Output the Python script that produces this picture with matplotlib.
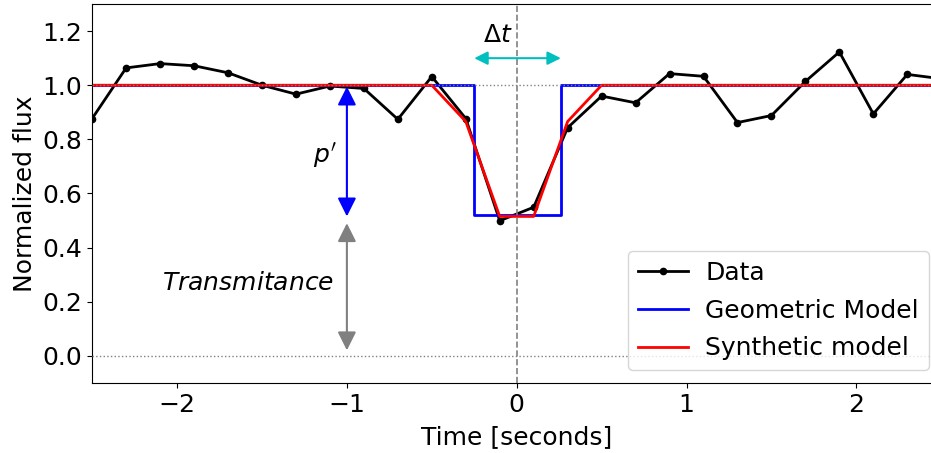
import matplotlib.pyplot as plt

# observed light curve, 0.2 s sampling
times = [-2.5, -2.3, -2.1, -1.9, -1.7, -1.5, -1.3, -1.1, -0.9, -0.7, -0.5,
         -0.3, -0.1, 0.1, 0.3, 0.5, 0.7, 0.9, 1.1, 1.3, 1.5, 1.7, 1.9, 2.1,
         2.3, 2.5]
flux = [0.877, 1.064, 1.080, 1.072, 1.046, 1.000, 0.967, 0.997, 0.988, 0.874,
        1.032, 0.877, 0.499, 0.549, 0.843, 0.960, 0.935, 1.043, 1.033, 0.862,
        0.888, 1.014, 1.123, 0.894, 1.040, 1.024]

# square-well geometric model
geo_times = [-2.5, -0.25, -0.25, 0.26, 0.26, 2.5]
geo_flux = [1.0, 1.0, 0.52, 0.52, 1.0, 1.0]

# synthetic model sampled on the data grid
syn_flux = [1.0, 1.0, 1.0, 1.0, 1.0, 1.0, 1.0, 1.0, 1.0, 1.0, 1.0,
            0.866, 0.515, 0.515, 0.866, 1.0, 1.0, 1.0, 1.0, 1.0, 1.0, 1.0,
            1.0, 1.0, 1.0, 1.0]

fs = 18
plt.rcParams['font.size'] = fs

fig = plt.figure(figsize=(9.31, 4.53), dpi=100)
# the axes run a little past the right edge of the canvas
ax = fig.add_axes([0.099, 0.155, 0.912, 0.836])

ax.plot(times, flux, 'k.-', lw=2, ms=9, label='Data')
ax.plot(geo_times, geo_flux, 'b-', lw=2, label='Geometric Model')
ax.plot(times, syn_flux, 'r-', lw=2, label='Synthetic model')

ax.axhline(1.0, color='gray', ls=':', lw=1, zorder=3)
ax.axhline(0.0, color='gray', ls=':', lw=1, zorder=3)
ax.axvline(0.0, color='gray', ls='--', lw=1.2, zorder=3)

# duration of the event
ax.annotate('', xy=(-0.25, 1.1), xytext=(0.26, 1.1),
            arrowprops=dict(arrowstyle='<|-|>', color='c', lw=1.5,
                            mutation_scale=20, shrinkA=0, shrinkB=0))
ax.text(-0.11, 1.185, r'$\Delta t$', fontsize=fs, ha='center', va='center')

# depth of the drop
ax.annotate('', xy=(-1.0, 0.995), xytext=(-1.0, 0.515),
            arrowprops=dict(arrowstyle='<|-|>', color='b', lw=1.5,
                            mutation_scale=28, shrinkA=0, shrinkB=0))
ax.text(-1.13, 0.74, r"$p'$", fontsize=fs, ha='center', va='center')

# remaining flux
ax.annotate('', xy=(-1.0, 0.49), xytext=(-1.0, 0.02),
            arrowprops=dict(arrowstyle='<|-|>', color='gray', lw=1.5,
                            mutation_scale=28, shrinkA=0, shrinkB=0))
ax.text(-1.58, 0.27, r'$Transmitance$', fontsize=fs, ha='center',
        va='center')

ax.set_xlim(-2.5, 2.5)
ax.set_ylim(-0.1, 1.3)
ax.set_xticks([-2, -1, 0, 1, 2])
ax.set_yticks([0.0, 0.2, 0.4, 0.6, 0.8, 1.0, 1.2])
ax.set_xlabel('Time [seconds]', labelpad=6)
ax.set_ylabel('Normalized flux')

ax.legend(loc='lower right', fontsize=fs, borderaxespad=0.5,
          handletextpad=0.7, labelspacing=0.55)

fig.savefig('out.png', dpi=100)
